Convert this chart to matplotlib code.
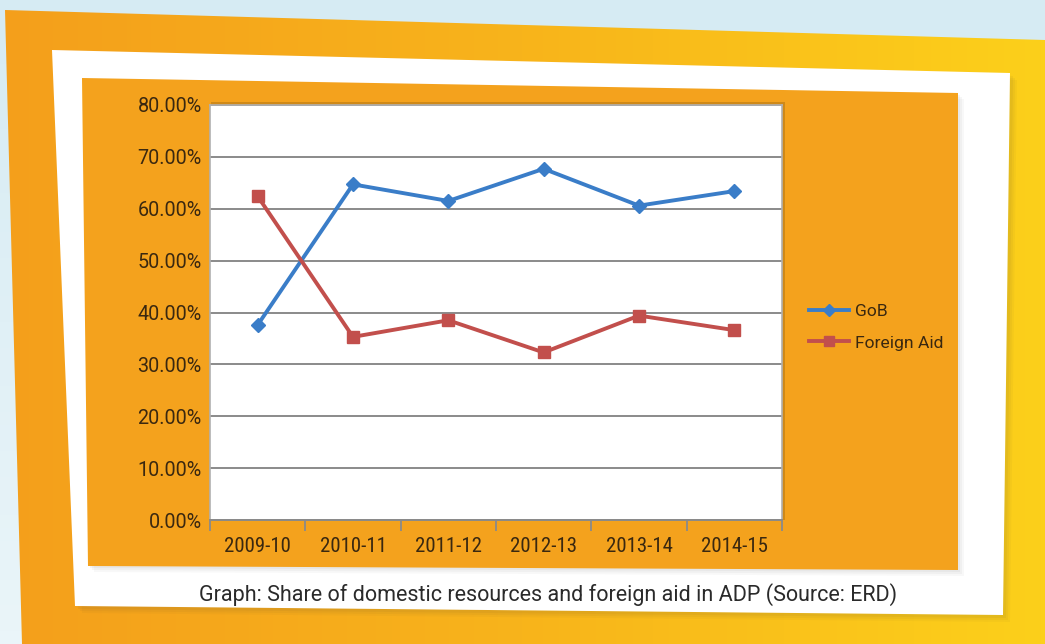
import matplotlib
matplotlib.use("Agg")
import matplotlib.pyplot as plt
import numpy as np
from matplotlib.patches import Polygon
from matplotlib.lines import Line2D

years = ["2009-10", "2010-11", "2011-12", "2012-13", "2013-14", "2014-15"]
gob = [37.6, 64.7, 61.5, 67.7, 60.6, 63.4]
foreign_aid = [62.4, 35.3, 38.5, 32.3, 39.4, 36.6]
y_ticks = [0, 10, 20, 30, 40, 50, 60, 70, 80]
caption = "Graph: Share of domestic resources and foreign aid in ADP (Source: ERD)"

W, H = 1045, 644
font = ["Roboto", "DejaVu Sans"]
font_narrow = ["Roboto Condensed", "Roboto", "DejaVu Sans"]
text_col = "#3a2810"


def main():
    fig = plt.figure(figsize=(W / 100, H / 100), dpi=100)

    # background decorations in pixel coordinates
    bg = fig.add_axes([0, 0, 1, 1])
    bg.set_xlim(0, W)
    bg.set_ylim(H, 0)
    bg.axis("off")

    sky = np.linspace(0, 1, 50).reshape(-1, 1)
    bg.imshow(sky, cmap=matplotlib.colors.LinearSegmentedColormap.from_list(
        "sky", ["#d6ebf3", "#eaf5f9"]), extent=[0, W, H, 0], aspect="auto", zorder=0)

    frame = Polygon([(5, 10), (W, 40), (W, H), (22, H)], closed=True,
                    facecolor="none", edgecolor="none", zorder=1)
    bg.add_patch(frame)
    grad = np.linspace(0, 1, 256).reshape(1, -1)
    im = bg.imshow(grad, cmap=matplotlib.colors.LinearSegmentedColormap.from_list(
        "sun", ["#f49f1c", "#f8b41b", "#fcd01a"]), extent=[0, W, H, 0],
        aspect="auto", zorder=1)
    im.set_clip_path(frame)

    # white card + soft shadow
    for off, a in [(7, 0.04), (5, 0.05), (3, 0.06)]:
        bg.add_patch(Polygon([(52 + off, 50 + off), (1010 + off, 73 + off),
                              (1003 + off, 615 + off), (75 + off, 606 + off)],
                             closed=True, facecolor="#5a4a30", alpha=a,
                             edgecolor="none", zorder=2))
    bg.add_patch(Polygon([(52, 50), (1010, 73), (1003, 615), (75, 606)],
                         closed=True, facecolor="white", edgecolor="none", zorder=3))

    # orange chart panel + soft shadow
    for off, a in [(6, 0.04), (4, 0.05), (2, 0.06)]:
        bg.add_patch(Polygon([(82 + off, 78 + off), (958 + off, 93 + off),
                              (958 + off, 570 + off), (88 + off, 566 + off)],
                             closed=True, facecolor="#606060", alpha=a,
                             edgecolor="none", zorder=4))
    bg.add_patch(Polygon([(82, 78), (958, 93), (958, 570), (88, 566)],
                         closed=True, facecolor="#f4a21d", edgecolor="none", zorder=5))
    # plot area shadow
    bg.add_patch(Polygon([(211, 102), (785, 102), (785, 520), (211, 520)],
                         closed=True, facecolor="#000000", alpha=0.15,
                         edgecolor="none", zorder=6))

    bg.text(548, 595, caption, ha="center", va="center", fontsize=15.5,
            color="#2a2a2a", family=font, zorder=7)

    # the chart itself
    left, right, top, bottom = 210, 782, 105, 520
    ax = fig.add_axes([left / W, 1 - bottom / H, (right - left) / W, (bottom - top) / H])
    ax.set_facecolor("white")
    x = np.arange(len(years))
    ax.plot(x, gob, color="#3a7dc8", lw=2.8, marker="D", ms=7, zorder=3)
    ax.plot(x, foreign_aid, color="#c24f4c", lw=2.8, marker="s", ms=8, zorder=3)

    ax.set_xlim(-0.5, len(years) - 0.5)
    ax.set_ylim(0, 80)
    ax.set_yticks(y_ticks)
    ax.set_yticklabels([f"{v:.2f}%" for v in y_ticks])
    ax.yaxis.grid(True, color="#8a8a8a", lw=1.4)
    ax.set_axisbelow(True)
    ax.set_xticks(x)
    ax.set_xticklabels(years)
    ax.set_xticks(np.arange(-0.5, len(years)), minor=True)
    ax.tick_params(axis="x", which="major", length=0, pad=12, labelsize=15,
                   labelcolor=text_col)
    ax.tick_params(axis="x", which="minor", length=8, width=1.3, color="#8a8a8a")
    ax.tick_params(axis="y", length=0, pad=6, labelsize=14.2, labelcolor=text_col)
    for lbl in ax.get_xticklabels():
        lbl.set_family(font_narrow)
    for lbl in ax.get_yticklabels():
        lbl.set_family(font)
    for side in ["left", "top", "right"]:
        ax.spines[side].set_color("#b0b0b0")
        ax.spines[side].set_linewidth(1.2)
    ax.spines["bottom"].set_color("#8a8a8a")
    ax.spines["bottom"].set_linewidth(1.4)

    handles = [Line2D([], [], color="#3a7dc8", lw=2.8, marker="D", ms=6.5),
               Line2D([], [], color="#c24f4c", lw=2.8, marker="s", ms=7)]
    leg = fig.legend(handles, ["GoB", "Foreign Aid"], loc="center left",
                     bbox_to_anchor=(793 / W, 1 - 327 / H), frameon=False,
                     prop={"family": font, "size": 12.6}, handlelength=2.3,
                     handletextpad=0.35, labelspacing=0.95)
    for t in leg.get_texts():
        t.set_color(text_col)

    fig.savefig("out.png", dpi=100)


if __name__ == "__main__":
    main()
